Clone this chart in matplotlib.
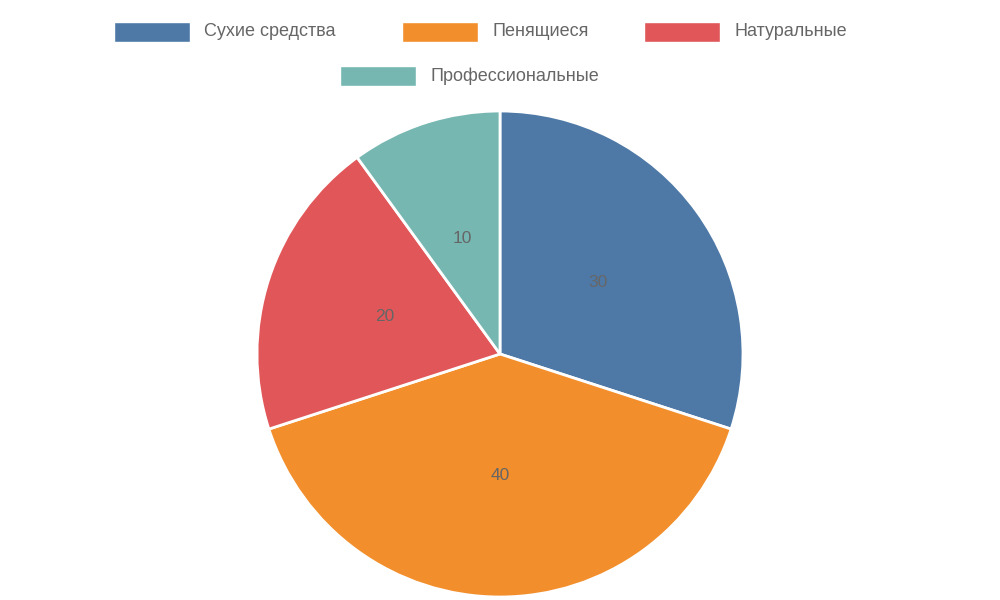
import matplotlib.pyplot as plt
from matplotlib.patches import Rectangle

categories = ['Сухие средства', 'Пенящиеся', 'Натуральные', 'Профессиональные']
values = [30, 40, 20, 10]
colors = ['#4E79A7', '#F28E2B', '#E15759', '#76B7B2']

plt.rcParams['font.family'] = ['Liberation Sans', 'DejaVu Sans']

fig = plt.figure(figsize=(10, 6), dpi=100)
R = 243
cx, cy = 500, 354
ax = fig.add_axes([(cx - R) / 1000, (600 - cy - R) / 600, 2 * R / 1000, 2 * R / 600])
ax.pie(values, colors=colors, startangle=90, counterclock=False,
       labels=[str(v) for v in values], labeldistance=0.5,
       textprops={'color': '#666666', 'fontsize': 12.5, 'ha': 'center', 'va': 'center'},
       wedgeprops={'edgecolor': 'white', 'linewidth': 2})
ax.set_xlim(-1, 1)
ax.set_ylim(-1, 1)
ax.set_aspect('equal')

# legend drawn by hand so the last row is centred like the original
legend_pos = [(114, 32), (402, 32), (644, 32), (340, 76)]
for (x, y), name, c in zip(legend_pos, categories, colors):
    fig.patches.append(Rectangle((x / 1000, (600 - y - 10) / 600), 76 / 1000, 20 / 600,
                                 transform=fig.transFigure, facecolor=c, edgecolor='white'))
    fig.text((x + 90) / 1000, (600 - y) / 600, name, color='#666666',
             fontsize=13, va='center', ha='left')

fig.savefig('out.png')
